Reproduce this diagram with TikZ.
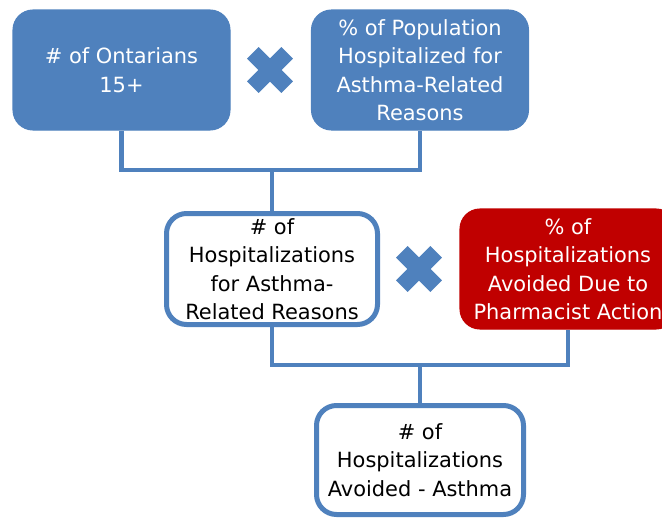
\documentclass[tikz,border=0pt]{standalone}
\usepackage{fontspec}
\setmainfont{DejaVu Sans}
\definecolor{bl}{HTML}{4F81BD}
\definecolor{rd}{HTML}{C00000}
\begin{document}
\begin{tikzpicture}[x=0.75pt,y=-0.75pt,
 box/.style={rounded corners=15pt, align=center, inner sep=0pt, font=\fontsize{15.7}{21.4}\selectfont},
 filledbox/.style={box, fill=bl, draw=bl, text=white, line width=0.8pt, minimum width=162.75pt, minimum height=90pt},
 whitebox/.style={box, fill=white, draw=bl, line width=3.75pt, text=black},
 redbox/.style={box, fill=rd, draw=rd, text=white, line width=0.8pt, minimum width=162pt, minimum height=90pt},
 conn/.style={draw=bl, line width=3.4pt, line join=miter},
 timesmark/.pic={\fill[bl, rotate=45] (-24.25,-8.25) rectangle (24.25,8.25);
                 \fill[bl, rotate=-45] (-24.25,-8.25) rectangle (24.25,8.25);}]
\useasboundingbox (0,0) rectangle (662,519);
\clip (0,0) rectangle (662,519);
\node[filledbox] (A) at (121.5,70) {\# of Ontarians\\15+};
\node[filledbox] (B) at (420,70) {\% of Population\\Hospitalized for\\Asthma-Related\\Reasons};
\node[whitebox, minimum width=158.25pt, minimum height=83.25pt] (C) at (272,269) {\# of\\Hospitalizations\\for Asthma-\\Related Reasons};
\node[redbox] (D) at (568,269) {\% of\\Hospitalizations\\Avoided Due to\\Pharmacist Action};
\node[whitebox, minimum width=155.25pt, minimum height=81.75pt] (E) at (420,460) {\# of\\Hospitalizations\\Avoided - Asthma};
\pic at (270,70) {timesmark};
\pic at (419,269) {timesmark};
\coordinate (j1) at (272,170);
\coordinate (j2) at (420,365);
\draw[conn] (A.south) |- (j1) -| (B.south);
\draw[conn] (j1) -- (C.north);
\draw[conn] (C.south) |- (j2) -| (D.south);
\draw[conn] (j2) -- (E.north);
\end{tikzpicture}
\end{document}
